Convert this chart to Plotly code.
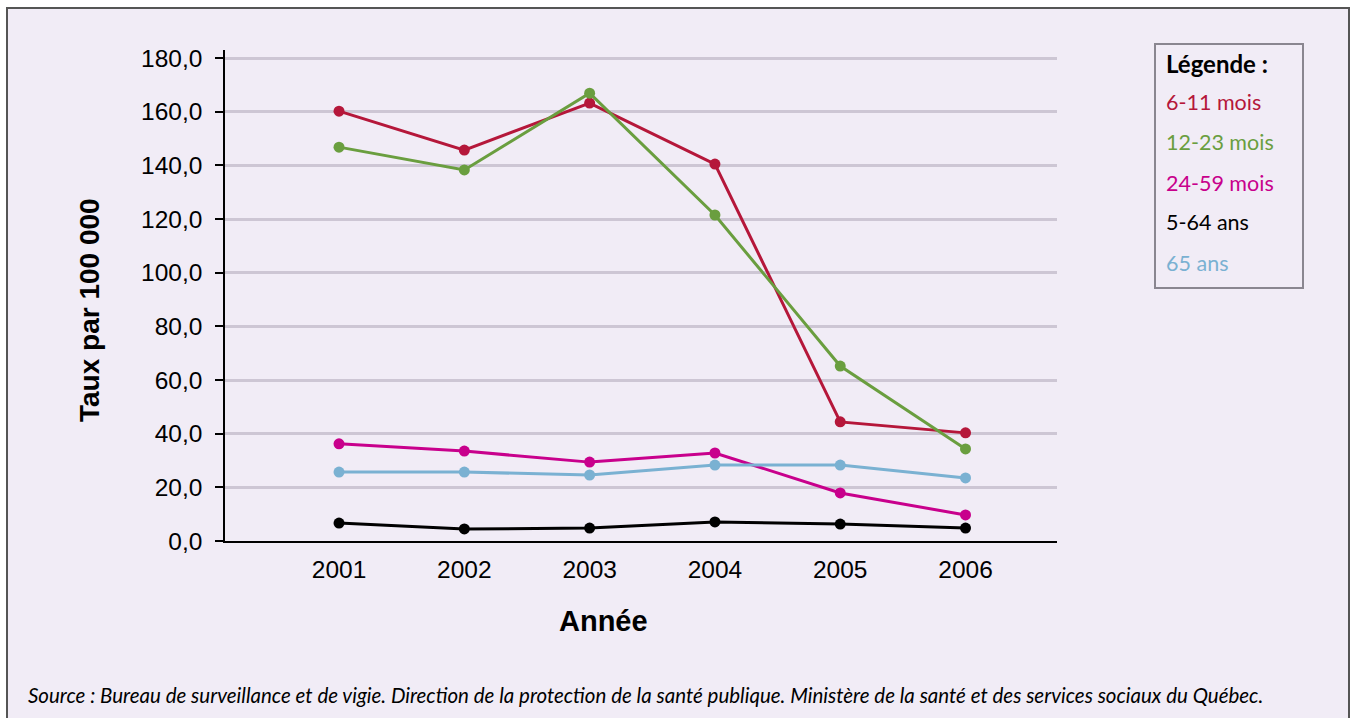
import plotly.graph_objects as go

W, H = 1354, 718

years = [2001, 2002, 2003, 2004, 2005, 2006]
year_labels = ["2001", "2002", "2003", "2004", "2005", "2006"]

series_names = ["6-11 mois", "12-23 mois", "24-59 mois", "5-64 ans", "65 ans"]
v_6_11 = [160.2, 145.7, 163.2, 140.5, 44.4, 40.3]
v_12_23 = [146.8, 138.3, 166.9, 121.5, 65.2, 34.3]
v_24_59 = [36.2, 33.5, 29.4, 32.8, 17.9, 9.7]
v_5_64 = [6.7, 4.5, 4.8, 7.1, 6.3, 4.8]
v_65 = [25.7, 25.7, 24.6, 28.3, 28.3, 23.5]
series_values = [v_6_11, v_12_23, v_24_59, v_5_64, v_65]
series_colors = ["#b5173a", "#6a9e3f", "#c8008c", "#000000", "#7ab1d2"]

y_ticks = [0, 20, 40, 60, 80, 100, 120, 140, 160, 180]

BG = "#f1ecf6"
GRID = "#cdc6d4"

def px_x(x):
    return x / W

def px_y(y):
    return 1 - y / H

fig = go.Figure()
for name, vals, col in zip(series_names, series_values, series_colors):
    fig.add_trace(go.Scatter(
        x=years, y=vals, name=name, mode="lines+markers",
        line=dict(color=col, width=3),
        marker=dict(color=col, size=11),
        showlegend=False,
    ))

AX_FONT = "Liberation Sans, Arial, Helvetica, sans-serif"
GILL = "Lato, Open Sans, sans-serif"

fig.update_layout(
    width=W, height=H, autosize=False,
    margin=dict(l=0, r=0, t=0, b=0, pad=0, autoexpand=False),
    paper_bgcolor="white",
    plot_bgcolor="rgba(0,0,0,0)",
    separators=", ",
    xaxis=dict(
        domain=[px_x(225), px_x(1057)],
        range=[2000.09, 2006.73],
        tickvals=years, ticktext=year_labels,
        showgrid=False, zeroline=False,
        showline=True, linecolor="black", linewidth=2,
        ticks="", ticklabelstandoff=6, automargin=False,
        tickfont=dict(family=AX_FONT, size=24.5, color="black"),
    ),
    yaxis=dict(
        domain=[px_y(541), px_y(50)],
        range=[0, 183.0],
        tickvals=y_ticks, tickformat=".1f",
        showgrid=True, gridcolor=GRID, gridwidth=3,
        zeroline=False, automargin=False,
        showline=True, linecolor="black", linewidth=1.5,
        ticks="outside", ticklen=8, tickcolor="black", tickwidth=2,
        ticklabelstandoff=8,
        tickfont=dict(family=AX_FONT, size=24.5, color="black"),
    ),
)

shapes = [
    # outer frame
    dict(type="rect", xref="paper", yref="paper", layer="below",
         x0=px_x(7), x1=px_x(1349), y0=-0.05, y1=px_y(8),
         fillcolor=BG, line=dict(color="#555555", width=2)),
    # legend box
    dict(type="rect", xref="paper", yref="paper", layer="above",
         x0=px_x(1155), x1=px_x(1303), y0=px_y(288), y1=px_y(44),
         fillcolor="rgba(0,0,0,0)", line=dict(color="#8a8690", width=2)),
]
fig.update_layout(shapes=shapes)

ann = []
ann.append(dict(text="<b>Taux par 100 000</b>", x=px_x(90), y=px_y(310),
                xref="paper", yref="paper", showarrow=False, textangle=-90,
                font=dict(family=AX_FONT, size=28, color="black"),
                xanchor="center", yanchor="middle"))
ann.append(dict(text="<b>Année</b>", x=px_x(603), y=px_y(621),
                xref="paper", yref="paper", showarrow=False,
                font=dict(family=AX_FONT, size=29, color="black"),
                xanchor="center", yanchor="middle"))
ann.append(dict(text="<b>Légende :</b>", x=px_x(1164), y=px_y(63),
                xref="paper", yref="paper", showarrow=False,
                font=dict(family=GILL, size=24, color="black"),
                xanchor="left", yanchor="middle"))
legend_ys = [102, 142, 183, 222, 263]
for name, col, ly in zip(series_names, series_colors, legend_ys):
    ann.append(dict(text=name, x=px_x(1164), y=px_y(ly),
                    xref="paper", yref="paper", showarrow=False,
                    font=dict(family=GILL, size=21.5, color=col),
                    xanchor="left", yanchor="middle"))
ann.append(dict(
    text="<i>Source : Bureau de surveillance et de vigie. Direction de la protection de la santé publique. "
         "Ministère de la santé et des services sociaux du Québec.</i>",
    x=px_x(26), y=px_y(695), xref="paper", yref="paper", showarrow=False,
    font=dict(family=GILL, size=20.5, color="black"),
    xanchor="left", yanchor="middle"))
fig.update_layout(annotations=ann)

post = (
    "var gd=document.getElementById('{plot_id}');"
    "gd.style.position='fixed';gd.style.top='0px';gd.style.left='0px';"
    "document.body.style.margin='0px';document.body.style.overflow='hidden';"
    "document.documentElement.style.overflow='hidden';"
)
fig.write_html("out.html",
               config={"responsive": False, "displayModeBar": False},
               post_script=post)
